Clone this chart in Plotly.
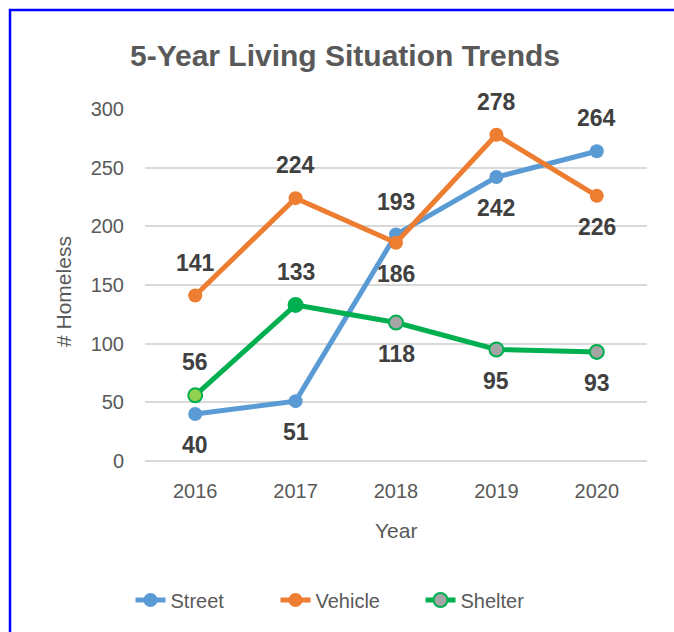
import plotly.graph_objects as go

years = ["2016", "2017", "2018", "2019", "2020"]
street = [40, 51, 193, 242, 264]
vehicle = [141, 224, 186, 278, 226]
shelter = [56, 133, 118, 95, 93]

street_pos = ["below", "below", "above", "below", "above"]
vehicle_pos = ["above", "above", "below", "above", "below"]
shelter_pos = ["above", "above", "below", "below", "below"]

C_STREET = "#5B9BD5"
C_VEHICLE = "#ED7D31"
C_SHELTER = "#00B050"
shelter_fill = ["#92D050", "#00B050", "#A5A5A5", "#A5A5A5", "#A5A5A5"]

FONT = "Liberation Sans"
W, H = 674, 632
L, R, T, B = 145, 27, 109, 171
PW, PH = W - L - R, H - T - B

fig = go.Figure()
fig.add_trace(go.Scatter(x=years, y=street, name="Street", mode="lines+markers",
                         line=dict(color=C_STREET, width=5),
                         marker=dict(color=C_STREET, size=14)))
fig.add_trace(go.Scatter(x=years, y=vehicle, name="Vehicle", mode="lines+markers",
                         line=dict(color=C_VEHICLE, width=5),
                         marker=dict(color=C_VEHICLE, size=14)))
fig.add_trace(go.Scatter(x=years, y=shelter, name="Shelter", mode="lines+markers",
                         line=dict(color=C_SHELTER, width=5), showlegend=False,
                         legendgroup="shelter",
                         marker=dict(color=shelter_fill, size=14,
                                     line=dict(color=C_SHELTER, width=2))))
fig.add_trace(go.Scatter(x=[None], y=[None], name="Shelter", mode="lines+markers",
                         line=dict(color=C_SHELTER, width=5), legendgroup="shelter",
                         marker=dict(color="#A5A5A5", size=14,
                                     line=dict(color=C_SHELTER, width=2))))

annotations = []
for vals, poss in [(street, street_pos), (vehicle, vehicle_pos), (shelter, shelter_pos)]:
    for i, (v, p) in enumerate(zip(vals, poss)):
        annotations.append(dict(x=i, y=v, xref="x", yref="y", text=str(v),
                                showarrow=False, yshift=33 if p == "above" else -31,
                                xanchor="center", yanchor="middle",
                                font=dict(family=FONT, size=23, color="#404040", weight="bold")))

# axis titles
annotations.append(dict(text="# Homeless", xref="paper", yref="paper",
                        x=(63 - L) / PW, y=(H - B - 292) / PH, textangle=-90,
                        showarrow=False, xanchor="center", yanchor="middle",
                        font=dict(family=FONT, size=21, color="#595959")))
annotations.append(dict(text="Year", xref="paper", yref="paper",
                        x=(396 - L) / PW, y=(H - B - 530) / PH,
                        showarrow=False, xanchor="center", yanchor="middle",
                        font=dict(family=FONT, size=21, color="#595959")))

fig.update_layout(
    width=W, height=H,
    margin=dict(l=L, r=R, t=T, b=B, autoexpand=False),
    paper_bgcolor="white", plot_bgcolor="white",
    title=dict(text="5-Year Living Situation Trends", x=345 / W, xanchor="center",
               y=1 - 55 / H, yanchor="middle",
               font=dict(family=FONT, size=30, color="#595959", weight="bold")),
    xaxis=dict(type="category", range=[-0.5, 4.5], showgrid=False, showline=False,
               zeroline=False, ticks="", ticklabelstandoff=16,
               tickfont=dict(family=FONT, size=20, color="#595959")),
    yaxis=dict(range=[0, 300], dtick=50, showgrid=True, gridcolor="#D9D9D9", gridwidth=1.5,
               zeroline=True, zerolinecolor="#D9D9D9", zerolinewidth=1.5,
               showline=False, ticks="", ticklabelstandoff=20,
               tickfont=dict(family=FONT, size=20, color="#595959")),
    legend=dict(orientation="h", x=(348 - L) / PW, xanchor="center",
                y=(H - B - 600) / PH, yanchor="middle",
                font=dict(family=FONT, size=20, color="#595959"),
                entrywidth=100, entrywidthmode="pixels",
                traceorder="normal"),
    annotations=annotations,
    shapes=[dict(type="rect", xref="paper", yref="paper",
                 x0=(10 - L) / PW, x1=(W + 50 - L) / PW,
                 y0=(H - B - (H + 50)) / PH, y1=(H - B - 10) / PH,
                 line=dict(color="#0000FF", width=2.5), fillcolor="rgba(0,0,0,0)",
                 layer="above")],
    showlegend=True,
)

fig.write_html("out.html", config={"displayModeBar": False},
               post_script="document.body.style.margin='0';document.body.style.overflow='hidden';")
